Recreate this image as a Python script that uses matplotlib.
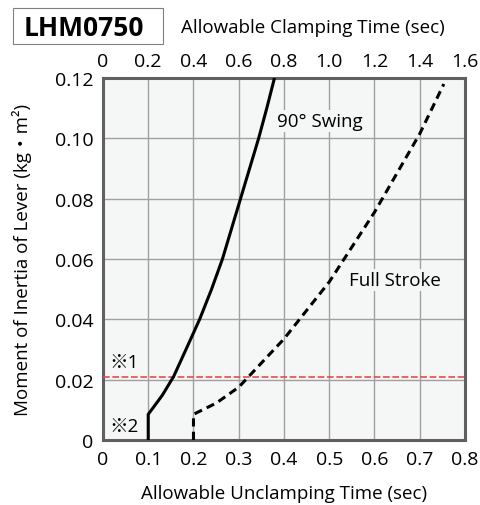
import numpy as np
import matplotlib.pyplot as plt
from matplotlib.patches import Rectangle

plt.rcParams['font.family'] = ['Open Sans', 'Noto Sans CJK JP', 'DejaVu Sans']

# 90 deg swing (solid) and full stroke (dashed) curves
swing_x = [0.1, 0.1, 0.131, 0.156, 0.184, 0.2136, 0.24, 0.264, 0.304, 0.324, 0.344, 0.362, 0.379]
swing_y = [0.0, 0.0085, 0.0148, 0.021, 0.0302, 0.04, 0.05, 0.06, 0.08, 0.09, 0.10, 0.11, 0.12]

stroke_x = [0.2, 0.2, 0.25, 0.3, 0.4, 0.5, 0.6, 0.7, 0.7533]
stroke_y = [0.0, 0.0085, 0.0122, 0.0175, 0.0335, 0.0524, 0.0755, 0.1015, 0.118]

limit_y = 0.0208

bottom_ticks = [0, 0.1, 0.2, 0.3, 0.4, 0.5, 0.6, 0.7, 0.8]
bottom_labels = ['0', '0.1', '0.2', '0.3', '0.4', '0.5', '0.6', '0.7', '0.8']
top_ticks = [0, 0.2, 0.4, 0.6, 0.8, 1.0, 1.2, 1.4, 1.6]
top_labels = ['0', '0.2', '0.4', '0.6', '0.8', '1.0', '1.2', '1.4', '1.6']
y_ticks = [0, 0.02, 0.04, 0.06, 0.08, 0.10, 0.12]
y_labels = ['0', '0.02', '0.04', '0.06', '0.08', '0.10', '0.12']

fig = plt.figure(figsize=(4.81, 5.06), dpi=100)
ax = fig.add_axes([0.2141, 0.1285, 0.7526, 0.7154])
bg = '#f5f6f6'
ax.set_facecolor(bg)

ax.plot(swing_x, swing_y, color='black', lw=2.2, solid_capstyle='butt', solid_joinstyle='round', zorder=4)
ax.plot(stroke_x, stroke_y, color='black', lw=2.2, dashes=(2.7, 1.7), zorder=4)
ax.axhline(limit_y, color='#e84a50', lw=1.2, dashes=(4.0, 1.6), zorder=3)

ax.set_xlim(0, 0.8)
ax.set_ylim(0, 0.12)
ax.set_xticks(bottom_ticks)
ax.set_xticklabels(bottom_labels)
ax.set_yticks(y_ticks)
ax.set_yticklabels(y_labels)
ax.grid(True, color='#a0a0a0', lw=1.0, zorder=1)
ax.set_axisbelow(True)
ax.tick_params(length=0, labelsize=14, pad=7)
for s in ax.spines.values():
    s.set_color('#606060')
    s.set_linewidth(2.2)

top = ax.secondary_xaxis('top', functions=(lambda x: x * 2, lambda x: x / 2))
top.set_xticks(top_ticks)
top.set_xticklabels(top_labels)
top.tick_params(length=0, labelsize=14, pad=6)
top.spines['top'].set_visible(False)

fig.text(0.590, 0.024, 'Allowable Unclamping Time (sec)', fontsize=13.5, ha='center', va='center')
fig.text(0.046, 0.486, 'Moment of Inertia of Lever (kg・m²)', fontsize=13.5, ha='center', va='center',
         rotation=90)

tb = dict(facecolor=bg, edgecolor='none', pad=1.5)
ax.text(0.479, 0.1057, '90° Swing', fontsize=13.5, ha='center', va='center', bbox=tb, zorder=5)
ax.text(0.646, 0.0531, 'Full Stroke', fontsize=13.5, ha='center', va='center', bbox=tb, zorder=5)
ax.text(0.014, 0.0259, '※1', fontsize=13.5, ha='left', va='center', zorder=5)
ax.text(0.014, 0.0047, '※2', fontsize=13.5, ha='left', va='center', zorder=5)

# model name box
fig.patches.append(Rectangle((13 / 481, 1 - 45 / 506), 150 / 481, 36 / 506, transform=fig.transFigure,
                             facecolor='white', edgecolor='#808080', lw=0.8))
fig.text(84 / 481, 1 - 28 / 506, 'LHM0750', fontsize=19, fontweight='bold', ha='center', va='center')
fig.text(181 / 481, 1 - 28 / 506, 'Allowable Clamping Time (sec)', fontsize=13.5, ha='left', va='center')

fig.savefig('out.png', dpi=100)
